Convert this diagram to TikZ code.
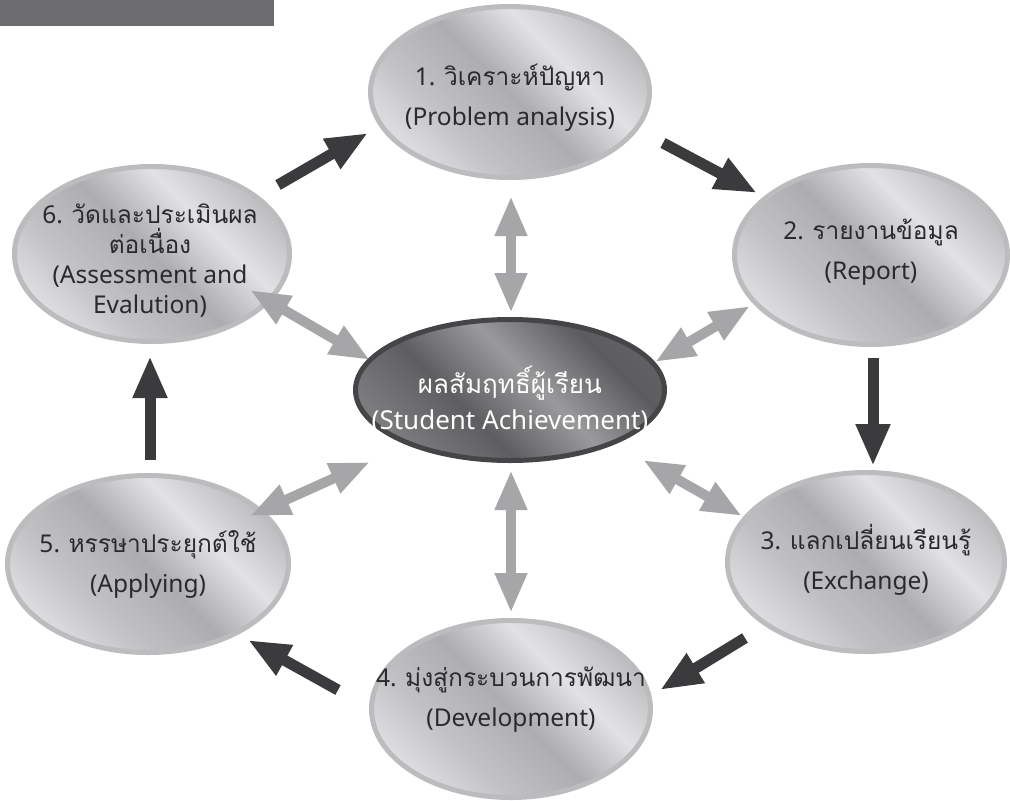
\documentclass[tikz,border=0pt]{standalone}
\usepackage{fontspec}
\setmainfont{Noto Sans}
\newfontfamily\thaifont[Script=Thai]{Loma}
\newcommand{\thtxt}[1]{{\thaifont #1}}
\usetikzlibrary{shapes.geometric,arrows.meta}

\definecolor{barGray}{HTML}{6D6D71}
\definecolor{rimLight}{HTML}{BCBCBE}
\definecolor{rimDark}{HTML}{454547}
\definecolor{inkDark}{HTML}{2A2A2C}
\definecolor{arrowDark}{HTML}{3B3B3D}
\definecolor{arrowLight}{HTML}{A6A6A8}
\definecolor{sA}{HTML}{B2B2B4}
\definecolor{sB}{HTML}{E4E4E6}
\definecolor{sC}{HTML}{C2C2C4}
\definecolor{sD}{HTML}{ADADAF}
\definecolor{sE}{HTML}{E2E2E4}
\definecolor{sF}{HTML}{B6B6B8}
\definecolor{sG}{HTML}{D8D8DA}
\definecolor{dA}{HTML}{4C4C4E}
\definecolor{dB}{HTML}{7C7C7E}
\definecolor{dC}{HTML}{5E5E60}
\definecolor{dD}{HTML}{9A9A9C}
\definecolor{dE}{HTML}{5C5C5E}
\definecolor{dF}{HTML}{747476}

\pgfdeclarehorizontalshading{silverband}{100bp}{%
  color(0bp)=(sA); color(22bp)=(sB); color(36bp)=(sC); color(50bp)=(sD);
  color(63bp)=(sE); color(78bp)=(sF); color(100bp)=(sG)}
\pgfdeclarehorizontalshading{graphiteband}{100bp}{%
  color(0bp)=(dA); color(25bp)=(dB); color(40bp)=(dC); color(55bp)=(dD);
  color(70bp)=(dE); color(100bp)=(dF)}

\tikzset{
  silverell/.style={ellipse, draw=rimLight, line width=5pt,
    shading=silverband, shading angle=45, inner sep=0pt},
  graphiteell/.style={ellipse, draw=rimDark, line width=5pt,
    shading=graphiteband, shading angle=45, inner sep=0pt},
  steplabel/.style={align=center, text=inkDark, font=\fontsize{24.5}{40}\selectfont},
  centerlabel/.style={align=center, text=white, font=\fontsize{26}{36}\selectfont},
  cyclearrow/.style={draw=arrowDark, line width=11pt,
    -{Triangle[length=42pt,width=32pt,fill=arrowDark]}},
  linkarrow/.style={draw=arrowLight, line width=10pt,
    {Triangle[length=40pt,width=30pt,fill=arrowLight]}-{Triangle[length=40pt,width=30pt,fill=arrowLight]}}
}

\begin{document}
\begin{tikzpicture}[x=1pt,y=-1pt]
\useasboundingbox (0,0) rectangle (1010,801);
\fill[white] (0,0) rectangle (1010,801);

% header bar
\fill[barGray] (0,0) rectangle (274,26);

% ellipses
\node[silverell, minimum width=279pt, minimum height=171pt] (n1) at (510,92) {};
\node[silverell, minimum width=273pt, minimum height=179pt] (n2) at (871,255) {};
\node[silverell, minimum width=277pt, minimum height=179pt] (n3) at (866,562) {};
\node[silverell, minimum width=279pt, minimum height=177pt] (n4) at (511,709) {};
\node[silverell, minimum width=281pt, minimum height=177pt] (n5) at (148,564) {};
\node[silverell, minimum width=275pt, minimum height=175pt] (n6) at (152,254) {};
\node[graphiteell, minimum width=309pt, minimum height=141pt] (nc) at (510,390) {};

% labels
\node[steplabel] (t1) at (510,98) {1. \thtxt{วิเคราะห์ปัญหา}\\(Problem analysis)};
\node[steplabel] (t2) at (871,252) {2. \thtxt{รายงานข้อมูล}\\(Report)};
\node[steplabel] (t3) at (866,560) {3. \thtxt{แลกเปลี่ยนเรียนรู้}\\(Exchange)};
\node[steplabel] (t4) at (511,700) {4. \thtxt{มุ่งสู่กระบวนการพัฒนา}\\(Development)};
\node[steplabel] (t5) at (148,564) {5. \thtxt{หรรษาประยุกต์ใช้}\\(Applying)};
\node[steplabel, font=\fontsize{24.5}{30}\selectfont] (t6) at (150,261)
  {6. \thtxt{วัดและประเมินผล}\\\thtxt{ต่อเนื่อง}\\(Assessment and\\Evalution)};
\node[centerlabel] (tc) at (510,400) {\thtxt{ผลสัมฤทธิ์ผู้เรียน}\\(Student Achievement)};

% arrow end points
\coordinate (a61s) at (278,185);  \coordinate (a61e) at (368,133);
\coordinate (a12s) at (663,143);  \coordinate (a12e) at (757,193);
\coordinate (a23s) at (873,358);  \coordinate (a23e) at (873,466);
\coordinate (a34s) at (745,638);  \coordinate (a34e) at (660,690);
\coordinate (a45s) at (338,690);  \coordinate (a45e) at (248,640);
\coordinate (a56s) at (150,460);  \coordinate (a56e) at (150,356);

\coordinate (l1a) at (511,196);   \coordinate (l1b) at (511,313);
\coordinate (l2a) at (750,306);   \coordinate (l2b) at (655,362);
\coordinate (l3a) at (643,460);   \coordinate (l3b) at (742,516);
\coordinate (l4a) at (511,470);   \coordinate (l4b) at (511,613);
\coordinate (l5a) at (370,462);   \coordinate (l5b) at (250,516);
\coordinate (l6a) at (250,290);   \coordinate (l6b) at (370,360);

% cycle arrows
\draw[cyclearrow] (a61s) -- (a61e);
\draw[cyclearrow] (a12s) -- (a12e);
\draw[cyclearrow] (a23s) -- (a23e);
\draw[cyclearrow] (a34s) -- (a34e);
\draw[cyclearrow] (a45s) -- (a45e);
\draw[cyclearrow] (a56s) -- (a56e);

% links to the centre
\draw[linkarrow] (l1a) -- (l1b);
\draw[linkarrow] (l2a) -- (l2b);
\draw[linkarrow] (l3a) -- (l3b);
\draw[linkarrow] (l4a) -- (l4b);
\draw[linkarrow] (l5a) -- (l5b);
\draw[linkarrow] (l6a) -- (l6b);
\end{tikzpicture}
\end{document}
